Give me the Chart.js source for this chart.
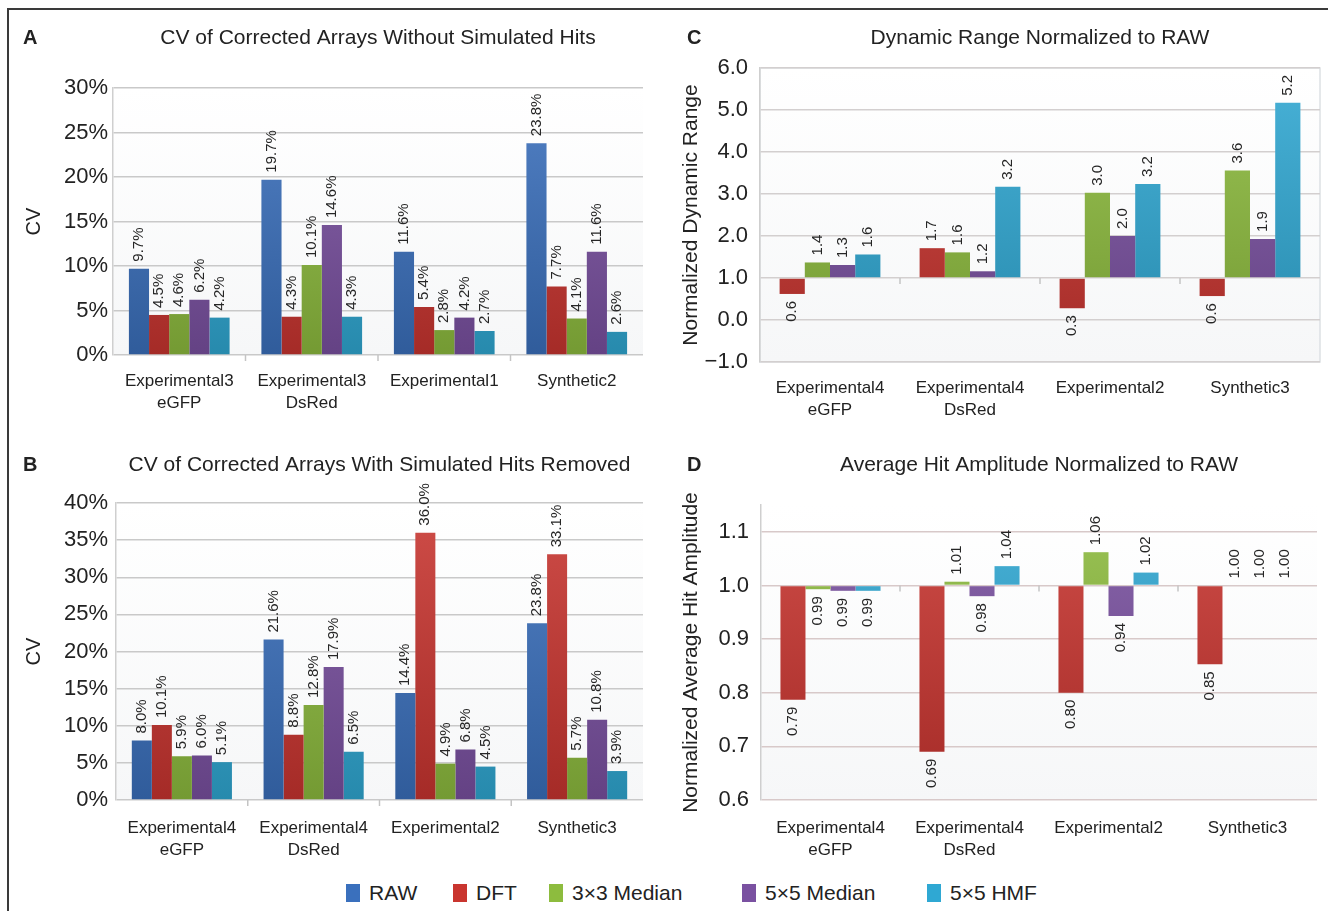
<!DOCTYPE html>
<html>
<head>
<meta charset="utf-8">
<title>Array correction comparison</title>
<script src="https://cdn.jsdelivr.net/npm/chart.js@4.4.1/dist/chart.umd.min.js"></script>
<style>
  body { margin: 0; background: #fff; font-family: "Liberation Sans", Arial, sans-serif; }
  #fig { position: relative; width: 1328px; height: 911px; overflow: hidden; }
  #frame { position: absolute; left: 7px; top: 8px; width: 1400px; height: 1000px;
           border-left: 2px solid #3a3a3a; border-top: 2px solid #3a3a3a; }
  canvas { position: absolute; }
  .key { position: absolute; top: 881px; font-size: 21px; color: #222; line-height: 24px; white-space: nowrap; }
  .key i { position: absolute; left: 0; top: 3px; width: 14px; height: 18px; }
  .key span { position: absolute; left: 23px; top: 0; }
</style>
</head>
<body>
<div id="fig">
  <div id="frame"></div>
  <canvas id="chartA" width="664" height="430" style="left:0;top:0"></canvas>
  <canvas id="chartC" width="664" height="430" style="left:664px;top:0"></canvas>
  <canvas id="chartB" width="664" height="440" style="left:0;top:430px"></canvas>
  <canvas id="chartD" width="664" height="440" style="left:664px;top:430px"></canvas>
  <div id="legend"></div>
</div>
<script>
var SERIES = ['RAW', 'DFT', '3\u00d73 Median', '5\u00d75 Median', '5\u00d75 HMF'];
var COLORS = ['#3a70bd', '#c9352f', '#8dbc3e', '#7a51a1', '#2fa8d3'];

// A: CV without simulated hits (%)
var catsA = [['Experimental3', 'eGFP'], ['Experimental3', 'DsRed'], 'Experimental1', 'Synthetic2'];
var rawA = [9.7, 19.7, 11.6, 23.8];
var dftA = [4.5, 4.3, 5.4, 7.7];
var med3A = [4.6, 10.1, 2.8, 4.1];
var med5A = [6.2, 14.6, 4.2, 11.6];
var hmfA = [4.2, 4.3, 2.7, 2.6];

// B: CV with simulated hits removed (%)
var catsB = [['Experimental4', 'eGFP'], ['Experimental4', 'DsRed'], 'Experimental2', 'Synthetic3'];
var rawB = [8.0, 21.6, 14.4, 23.8];
var dftB = [10.1, 8.8, 36.0, 33.1];
var med3B = [5.9, 12.8, 4.9, 5.7];
var med5B = [6.0, 17.9, 6.8, 10.8];
var hmfB = [5.1, 6.5, 4.5, 3.9];

// C: dynamic range normalized to RAW (RAW = 1)
var catsC = catsB;
var dftC = [0.62, 1.71, 0.28, 0.57];
var med3C = [1.37, 1.61, 3.03, 3.56];
var med5C = [1.31, 1.16, 2.0, 1.93];
var hmfC = [1.56, 3.17, 3.24, 5.17];

// D: average hit amplitude normalized to RAW (RAW = 1)
var catsD = catsB;
var dftD = [0.787, 0.69, 0.80, 0.853];
var med3D = [0.993, 1.007, 1.062, 1.0];
var med5D = [0.99, 0.98, 0.943, 1.0];
var hmfD = [0.99, 1.036, 1.024, 1.0];

var ticksA = [0, 5, 10, 15, 20, 25, 30];
var ticksB = [0, 5, 10, 15, 20, 25, 30, 35, 40];
var ticksC = [-1, 0, 1, 2, 3, 4, 5, 6];
var ticksD = [0.6, 0.7, 0.8, 0.9, 1.0, 1.1];

var FONT = '"Liberation Sans", Arial, sans-serif';

function shade(hex, amt) {
  var n = parseInt(hex.slice(1), 16);
  var r = n >> 16, g = (n >> 8) & 255, b = n & 255;
  function f(c) { return Math.max(0, Math.min(255, Math.round(amt > 0 ? c + (255 - c) * amt : c * (1 + amt)))); }
  return 'rgb(' + f(r) + ',' + f(g) + ',' + f(b) + ')';
}

function barFill(color) {
  return function(c) {
    var area = c.chart.chartArea;
    if (!area) return color;
    var g = c.chart.ctx.createLinearGradient(0, area.top, 0, area.bottom);
    g.addColorStop(0, shade(color, 0.12));
    g.addColorStop(1, shade(color, -0.18));
    return g;
  };
}

// rotated value labels next to the bar ends
var barLabels = {
  id: 'barLabels',
  afterDatasetsDraw: function(chart, args, opts) {
    var ctx = chart.ctx;
    ctx.save();
    ctx.font = '15px ' + FONT;
    ctx.fillStyle = '#262626';
    chart.data.datasets.forEach(function(ds, i) {
      chart.getDatasetMeta(i).data.forEach(function(bar, j) {
        var v = ds.data[j];
        var base = ds.base === undefined ? 0 : ds.base;
        var up = v >= base;
        var y = up ? Math.min(bar.y, bar.base) - opts.gap : Math.max(bar.y, bar.base) + opts.gap;
        ctx.save();
        ctx.translate(bar.x, y);
        ctx.rotate(-Math.PI / 2);
        ctx.textAlign = up ? 'left' : 'right';
        ctx.textBaseline = 'middle';
        ctx.fillText(opts.format(v), 0, 0);
        ctx.restore();
      });
    });
    ctx.restore();
  }
};

// panel letter, title, plot background and the small category ticks
var panelDeco = {
  id: 'panelDeco',
  beforeDraw: function(chart, args, opts) {
    var a = chart.chartArea, ctx = chart.ctx;
    ctx.save();
    var g = ctx.createLinearGradient(0, a.top, 0, a.bottom);
    g.addColorStop(0, '#ffffff');
    g.addColorStop(1, '#f6f7f8');
    ctx.fillStyle = g;
    ctx.fillRect(a.left, a.top, a.right - a.left, a.bottom - a.top);
    if (opts.box) {
      ctx.strokeStyle = '#dde1e4';
      ctx.lineWidth = 1.5;
      ctx.strokeRect(a.left, a.top, a.right - a.left, a.bottom - a.top);
    }
    ctx.restore();
  },
  afterDraw: function(chart, args, opts) {
    var a = chart.chartArea, ctx = chart.ctx;
    var xs = chart.scales.x, ys = chart.scales.y;
    ctx.save();
    ctx.fillStyle = '#222';
    ctx.textBaseline = 'middle';
    ctx.font = 'bold 20px ' + FONT;
    ctx.textAlign = 'left';
    ctx.fillText(opts.letter, 23, opts.titleY);
    ctx.font = '21px ' + FONT;
    ctx.textAlign = 'center';
    ctx.fillText(opts.title, (a.left + a.right) / 2, opts.titleY);
    var yc = ys.getPixelForValue(opts.cross);
    ctx.strokeStyle = '#c4c4c4';
    ctx.lineWidth = 1.5;
    for (var k = 0; k < xs.ticks.length - 1; k++) {
      var bx = (xs.getPixelForTick(k) + xs.getPixelForTick(k + 1)) / 2;
      ctx.beginPath();
      ctx.moveTo(bx, yc);
      ctx.lineTo(bx, yc + 6);
      ctx.stroke();
    }
    ctx.restore();
  }
};

function makeChart(id, p) {
  var datasets = p.series.map(function(s) {
    var ds = {
      label: SERIES[s.k],
      data: s.data,
      backgroundColor: barFill(COLORS[s.k]),
      borderWidth: 0,
      barPercentage: 1,
      categoryPercentage: p.catPct
    };
    if (p.base !== undefined) ds.base = p.base;
    return ds;
  });
  return new Chart(document.getElementById(id), {
    type: 'bar',
    data: { labels: p.cats, datasets: datasets },
    plugins: [panelDeco, barLabels],
    options: {
      responsive: false,
      animation: false,
      layout: { padding: p.pad },
      plugins: {
        legend: { display: false },
        tooltip: { enabled: false },
        barLabels: { gap: 7, format: p.fmt },
        panelDeco: { letter: p.letter, title: p.title, titleY: p.titleY, cross: p.cross, box: p.box }
      },
      scales: {
        x: {
          grid: { display: false, drawTicks: false },
          border: { display: false },
          ticks: { color: '#222', padding: p.xPad, font: { family: FONT, size: 17, lineHeight: 1.3 } },
          afterFit: function(sc) { sc.height = 60; }
        },
        y: {
          min: p.ticks[0],
          max: p.max,
          afterBuildTicks: function(sc) { sc.ticks = p.ticks.map(function(v) { return { value: v }; }); },
          grid: { color: p.gridColor, lineWidth: 1.5, drawTicks: false },
          border: { display: true, color: '#cfcfcf', width: 1.5 },
          ticks: { color: '#222', padding: p.yPad, font: { family: FONT, size: 22 }, callback: p.tickFmt },
          title: { display: true, text: p.yTitle, color: '#222', font: { family: FONT, size: p.yTitleSize },
                   padding: { top: p.yTitlePad, bottom: 0 } },
          afterFit: function(sc) { sc.width = p.yWidth; }
        }
      }
    }
  });
}

function pct(v) { return v.toFixed(1) + '%'; }
function tickPct(v) { return v + '%'; }
function dec1(v) { return v.toFixed(1); }
function tickDec1(v) { return v < 0 ? '\u2212' + (-v).toFixed(1) : v.toFixed(1); }
function dec2(v) { return v.toFixed(2); }

makeChart('chartA', {
  cats: catsA, letter: 'A', title: 'CV of Corrected Arrays Without Simulated Hits', titleY: 38,
  series: [{ k: 0, data: rawA }, { k: 1, data: dftA }, { k: 2, data: med3A }, { k: 3, data: med5A }, { k: 4, data: hmfA }],
  catPct: 0.76, pad: { top: 88, right: 21, bottom: 15, left: 0 }, yWidth: 113, xPad: 15, yPad: 5,
  ticks: ticksA, max: 30, tickFmt: tickPct, fmt: pct, cross: 0, gridColor: '#c9c9c9',
  yTitle: 'CV', yTitleSize: 20, yTitlePad: 22
});

makeChart('chartB', {
  cats: catsB, letter: 'B', title: 'CV of Corrected Arrays With Simulated Hits Removed', titleY: 35,
  series: [{ k: 0, data: rawB }, { k: 1, data: dftB }, { k: 2, data: med3B }, { k: 3, data: med5B }, { k: 4, data: hmfB }],
  catPct: 0.76, pad: { top: 73, right: 21, bottom: 10, left: 0 }, yWidth: 116, xPad: 17, yPad: 8,
  ticks: ticksB, max: 40, tickFmt: tickPct, fmt: pct, cross: 0, gridColor: '#c9c9c9',
  yTitle: 'CV', yTitleSize: 20, yTitlePad: 22
});

makeChart('chartC', {
  cats: catsC, letter: 'C', title: 'Dynamic Range Normalized to RAW', titleY: 38,
  series: [{ k: 1, data: dftC }, { k: 2, data: med3C }, { k: 3, data: med5C }, { k: 4, data: hmfC }],
  catPct: 0.72, base: 1, pad: { top: 68, right: 8, bottom: 8, left: 0 }, yWidth: 96, xPad: 15, yPad: 12,
  ticks: ticksC, max: 6, tickFmt: tickDec1, fmt: dec1, cross: 1, gridColor: '#d3cfcf', box: true,
  yTitle: 'Normalized Dynamic Range', yTitleSize: 21, yTitlePad: 15
});

makeChart('chartD', {
  cats: catsD, letter: 'D', title: 'Average Hit Amplitude Normalized to RAW', titleY: 35,
  series: [{ k: 1, data: dftD }, { k: 2, data: med3D }, { k: 3, data: med5D }, { k: 4, data: hmfD }],
  catPct: 0.72, base: 1, pad: { top: 75, right: 11, bottom: 10, left: 0 }, yWidth: 97, xPad: 17, yPad: 12,
  ticks: ticksD, max: 1.15, tickFmt: dec1, fmt: dec2, cross: 1, gridColor: '#d8c9c9',
  yTitle: 'Normalized Average Hit Amplitude', yTitleSize: 21, yTitlePad: 15
});

// shared legend under the panels
var keyLeft = [346, 453, 549, 742, 927];
var legend = document.getElementById('legend');
SERIES.forEach(function(name, i) {
  var d = document.createElement('div');
  d.className = 'key';
  d.style.left = keyLeft[i] + 'px';
  d.innerHTML = '<i style="background:' + COLORS[i] + '"></i><span>' + name + '</span>';
  legend.appendChild(d);
});
</script>
</body>
</html>
